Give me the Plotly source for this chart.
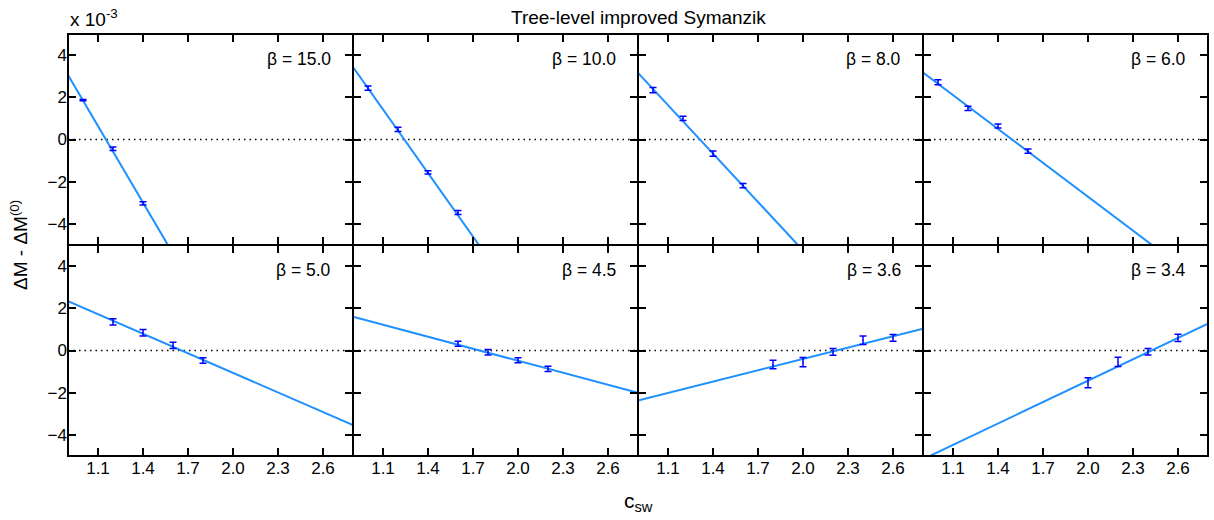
import plotly.graph_objects as go
from plotly.subplots import make_subplots

# ---- data ----
betas = ["15.0", "10.0", "8.0", "6.0", "5.0", "4.5", "3.6", "3.4"]

csw_15 = [1.0, 1.2, 1.4]
dm_15 = [1.87, -0.44, -3.03]
err_15 = [0.03, 0.08, 0.08]

csw_10 = [1.0, 1.2, 1.4, 1.6]
dm_10 = [2.44, 0.48, -1.56, -3.46]
err_10 = [0.1, 0.1, 0.08, 0.1]

csw_8 = [1.0, 1.2, 1.4, 1.6]
dm_8 = [2.34, 1.0, -0.67, -2.19]
err_8 = [0.13, 0.1, 0.12, 0.1]

csw_6 = [1.0, 1.2, 1.4, 1.6]
dm_6 = [2.71, 1.47, 0.64, -0.55]
err_6 = [0.12, 0.1, 0.1, 0.1]

csw_5 = [1.2, 1.4, 1.6, 1.8]
dm_5 = [1.36, 0.84, 0.24, -0.47]
err_5 = [0.15, 0.15, 0.15, 0.13]

csw_45 = [1.6, 1.8, 2.0, 2.2]
dm_45 = [0.32, -0.08, -0.46, -0.87]
err_45 = [0.12, 0.13, 0.12, 0.12]

csw_36 = [1.8, 2.0, 2.2, 2.4, 2.6]
dm_36 = [-0.66, -0.55, -0.06, 0.49, 0.6]
err_36 = [0.2, 0.22, 0.16, 0.2, 0.16]

csw_34 = [2.0, 2.2, 2.4, 2.6]
dm_34 = [-1.53, -0.54, -0.06, 0.6]
err_34 = [0.24, 0.22, 0.15, 0.17]

# linear fits: value at c_sw = 0.9 and slope
fit_at_09 = [3.06, 3.43, 3.16, 3.17, 2.34, 1.60, -2.37, -5.15]
fit_slope = [-12.1, -10.04, -7.65, -5.35, -3.09, -1.895, 1.79, 3.38]

x_ticks = [1.1, 1.4, 1.7, 2.0, 2.3, 2.6]
x_tick_text = ["1.1", "1.4", "1.7", "2.0", "2.3", "2.6"]
y_ticks = [-4, -2, 0, 2, 4]
x_range = [0.9, 2.8]
y_range = [-5, 5]

series = [
    (csw_15, dm_15, err_15), (csw_10, dm_10, err_10), (csw_8, dm_8, err_8), (csw_6, dm_6, err_6),
    (csw_5, dm_5, err_5), (csw_45, dm_45, err_45), (csw_36, dm_36, err_36), (csw_34, dm_34, err_34),
]

FONT = "Liberation Sans, Arial, Helvetica, sans-serif"
LINE_COLOR = "#1E90FF"
ERR_COLOR = "#0000FF"

fig = make_subplots(rows=2, cols=4, horizontal_spacing=0, vertical_spacing=0)

for i, (xs, ys, es) in enumerate(series):
    r = i // 4 + 1
    c = i % 4 + 1
    # zero dotted line
    fig.add_trace(go.Scatter(x=x_range, y=[0, 0], mode="lines",
                             line=dict(color="black", width=1.5, dash="1.5px,4px"),
                             showlegend=False, hoverinfo="skip"), row=r, col=c)
    # fit line
    fx = x_range
    fy = [fit_at_09[i] + fit_slope[i] * (x - 0.9) for x in fx]
    fig.add_trace(go.Scatter(x=fx, y=fy, mode="lines",
                             line=dict(color=LINE_COLOR, width=2),
                             showlegend=False), row=r, col=c)
    # data with error bars
    fig.add_trace(go.Scatter(x=xs, y=ys, mode="markers",
                             marker=dict(size=1, color=ERR_COLOR),
                             error_y=dict(type="data", array=es, visible=True,
                                          color=ERR_COLOR, thickness=1.5, width=3.5),
                             showlegend=False), row=r, col=c)
    xref = "x domain" if i == 0 else f"x{i+1} domain"
    yref = "y domain" if i == 0 else f"y{i+1} domain"
    # frame
    fig.add_shape(type="rect", xref=xref, yref=yref, x0=0, x1=1, y0=0, y1=1,
                  line=dict(color="black", width=2), fillcolor="rgba(0,0,0,0)", layer="above")
    # beta label
    fig.add_annotation(x=0.93, y=0.88, xref=xref, yref=yref, xanchor="right", yanchor="middle",
                       text=f"β = {betas[i]}", showarrow=False,
                       font=dict(family=FONT, size=17.5, color="black"))

for i in range(8):
    r = i // 4 + 1
    c = i % 4 + 1
    fig.update_xaxes(range=x_range, tickvals=x_ticks, ticktext=x_tick_text,
                     showticklabels=(r == 2), ticks="inside", ticklen=8, tickwidth=1.5,
                     tickcolor="black", showline=False,
                     mirror="ticks", showgrid=False, zeroline=False,
                     tickfont=dict(family=FONT, size=17, color="black"), row=r, col=c)
    fig.update_yaxes(range=y_range, tickvals=y_ticks,
                     showticklabels=(c == 1), ticks="inside", ticklen=8, tickwidth=1.5,
                     tickcolor="black", showline=False,
                     mirror="ticks", showgrid=False, zeroline=False,
                     tickfont=dict(family=FONT, size=17, color="black"), row=r, col=c)

fig.add_annotation(x=0.5, y=1.0, xref="paper", yref="paper", yanchor="bottom", yshift=4,
                   text="Tree-level improved Symanzik", showarrow=False,
                   font=dict(family=FONT, size=19, color="black"))
fig.add_annotation(x=0.0, y=1.0, xref="paper", yref="paper", xanchor="left", yanchor="bottom",
                   yshift=2, text="x 10<sup>-3</sup>", showarrow=False,
                   font=dict(family=FONT, size=19, color="black"))
fig.add_annotation(x=-0.043, y=0.5, xref="paper", yref="paper", xanchor="center", yanchor="middle",
                   textangle=-90, text="ΔM - ΔM<sup>(0)</sup>", showarrow=False,
                   font=dict(family=FONT, size=19, color="black"))
fig.add_annotation(x=0.5, y=0, xref="paper", yref="paper", yanchor="top", yshift=-31,
                   text="c<sub>sw</sub>", showarrow=False,
                   font=dict(family=FONT, size=21, color="black"))

fig.update_layout(width=1214, height=520, margin=dict(l=68, r=6, t=34, b=64),
                  paper_bgcolor="white", plot_bgcolor="white",
                  font=dict(family=FONT, size=17, color="black"))

fig.write_html("out.html")
